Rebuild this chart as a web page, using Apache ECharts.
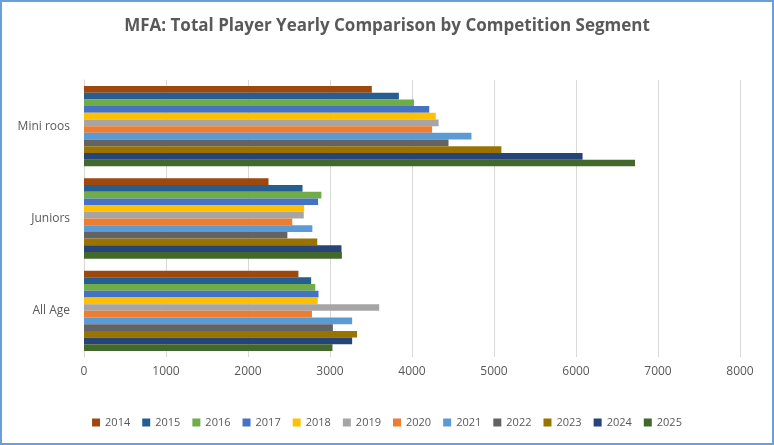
<!DOCTYPE html>
<html lang="en">
<head>
  <meta charset="UTF-8">
  <title>MFA: Total Player Yearly Comparison by Competition Segment</title>
  <style>
    html, body { margin: 0; padding: 0; background: #fff; }
    #myEcharts {
      width: 770px;
      height: 441px;
      border: solid 2px #6a9fd8;
    }
  </style>
  <script src="https://cdn.jsdelivr.net/npm/echarts@6/dist/echarts.min.js"></script>
</head>
<body>
  <div id="myEcharts"></div>
  <script>
    // 分类（从上到下）
    var categories = ['Mini roos', 'Juniors', 'All Age'];
    var years = ['2014', '2015', '2016', '2017', '2018', '2019', '2020', '2021', '2022', '2023', '2024', '2025'];
    var colors = ['#9e480e', '#255e91', '#70ad47', '#4472c4', '#ffc000', '#a5a5a5',
                  '#ed7d31', '#5b9bd5', '#636363', '#997300', '#264478', '#43682b'];
    // 每年的数值：[Mini roos, Juniors, All Age]
    var miniRoos = [3510, 3840, 4025, 4210, 4290, 4325, 4245, 4725, 4445, 5090, 6080, 6720];
    var juniors  = [2250, 2665, 2895, 2855, 2685, 2680, 2540, 2785, 2480, 2845, 3140, 3145];
    var allAge   = [2615, 2770, 2820, 2860, 2850, 3600, 2780, 3270, 3035, 3330, 3270, 3030];
    var xTicks = [0, 1000, 2000, 3000, 4000, 5000, 6000, 7000, 8000];

    var myChart = echarts.init(document.getElementById('myEcharts'));

    var series = years.map(function (y, i) {
      return {
        name: y,
        type: 'bar',
        barGap: '0%',
        barCategoryGap: '13%',
        itemStyle: { color: colors[i] },
        data: [miniRoos[i], juniors[i], allAge[i]]
      };
    });

    var option = {
      animation: false,
      title: {
        text: 'MFA: Total Player Yearly Comparison by Competition Segment',
        left: 'center',
        top: 11,
        textStyle: {
          fontFamily: 'Open Sans',
          fontSize: 17,
          fontWeight: 'bold',
          color: '#595959'
        }
      },
      legend: {
        data: years,
        bottom: 10,
        left: 'center',
        itemWidth: 8,
        itemHeight: 8,
        itemGap: 12,
        icon: 'rect',
        textStyle: { fontFamily: 'Open Sans', fontSize: 11, color: '#595959' }
      },
      grid: {
        left: 82,
        right: 32,
        top: 78,
        bottom: 86,
        containLabel: false
      },
      xAxis: {
        type: 'value',
        min: xTicks[0],
        max: xTicks[xTicks.length - 1],
        interval: 1000,
        axisLine: { show: false },
        axisTick: { show: false },
        splitLine: { lineStyle: { color: '#d9d9d9' } },
        axisLabel: {
          fontFamily: 'Open Sans',
          fontSize: 12,
          color: '#595959',
          margin: 9,
          formatter: function (v) { return String(v); }
        }
      },
      yAxis: {
        type: 'category',
        data: categories,
        inverse: true,
        axisLine: { lineStyle: { color: '#d9d9d9' } },
        axisTick: { show: false },
        axisLabel: {
          fontFamily: 'Open Sans',
          fontSize: 12,
          color: '#595959',
          margin: 14
        }
      },
      series: series
    };

    myChart.setOption(option);
  </script>
</body>
</html>
